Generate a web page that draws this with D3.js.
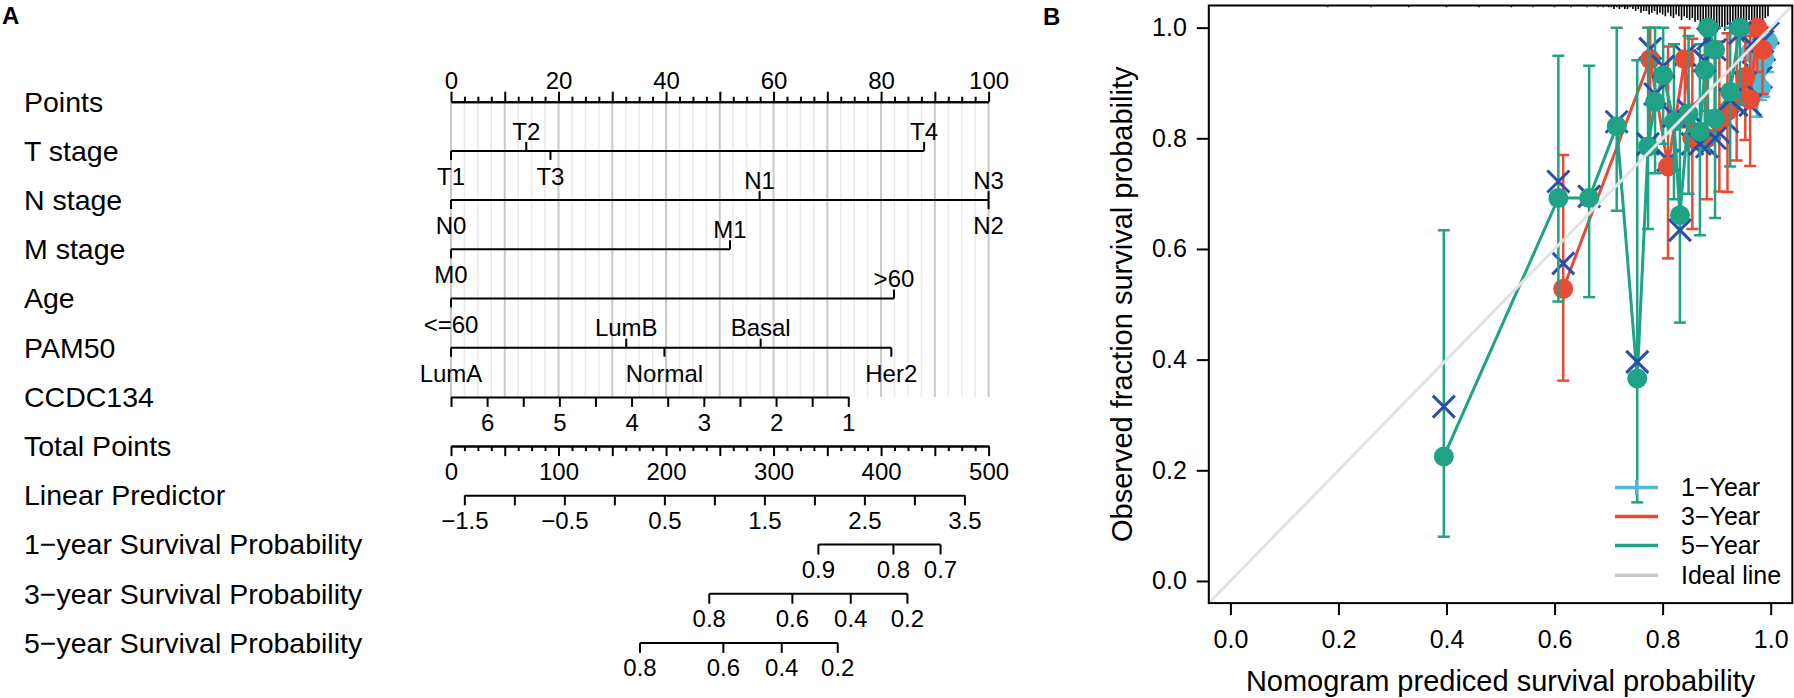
<!DOCTYPE html>
<html>
<head>
<meta charset="utf-8">
<script src="https://cdn.jsdelivr.net/npm/d3@7"></script>
<style>
  body { margin: 0; background: #fff; }
  svg { font-family: "Liberation Sans", Arial, sans-serif; }
</style>
</head>
<body>
<svg id="fig" width="1794" height="698"></svg>
<script>
// ---------- DATA ----------
// panel A : nomogram
const rowLabels = ["Points", "T stage", "N stage", "M stage", "Age", "PAM50", "CCDC134",
  "Total Points", "Linear Predictor", "1\u2212year Survival Probability",
  "3\u2212year Survival Probability", "5\u2212year Survival Probability"];

const tLevels = ["T1", "T2", "T3", "T4"],           tPoints = [0, 14.0, 18.5, 88.0];
const nLevels = ["N0", "N1", "N2", "N3"],           nPoints = [0, 57.4, 100, 100];
const mLevels = ["M0", "M1"],                       mPoints = [0, 51.9];
const ageLevels = ["<=60", ">60"],                  agePoints = [0, 82.4];
const pamLevels = ["LumA", "LumB", "Normal", "Basal", "Her2"], pamPoints = [0, 32.6, 39.7, 57.6, 81.9];

const ccdcDomain = [6.5, 1], ccdcPoints = [0, 73.9];   // CCDC134 value -> points
const lpDomain = [-1.5, 3.5], lpTotal = [12.4, 477.5];  // linear predictor -> total points

const surv1Ticks = [0.9, 0.8, 0.7],      surv1Total = [341.7, 411.5, 455.3];
const surv3Ticks = [0.8, 0.6, 0.4, 0.2], surv3Total = [240.2, 317.5, 371.8, 424.5];
const surv5Ticks = [0.8, 0.6, 0.4, 0.2], surv5Total = [175.8, 253.3, 307.6, 359.7];

// panel B : calibration  [predicted, observed, lower, upper, bias corrected]
const oneYear = [
  [0.962, 0.955, 0.875, 1.000, 0.965],
  [0.968, 0.905, 0.870, 0.990, 0.920],
  [0.975, 0.925, 0.839, 1.000, 0.940],
  [0.982, 0.890, 0.869, 0.960, 0.910],
  [0.988, 0.945, 0.875, 1.000, 0.960],
  [0.995, 0.975, 0.920, 1.000, 0.990]];
const threeYear = [
  [0.616, 0.528, 0.362, 0.770, 0.574],
  [0.777, 0.943, 0.800, 1.000, 0.962],
  [0.810, 0.749, 0.583, 0.966, 0.760],
  [0.841, 0.943, 0.820, 1.000, 0.950],
  [0.855, 0.800, 0.636, 0.980, 0.790],
  [0.882, 0.800, 0.690, 0.950, 0.785],
  [0.905, 0.830, 0.704, 0.975, 0.810],
  [0.920, 0.849, 0.703, 0.990, 0.830],
  [0.937, 0.880, 0.760, 1.000, 0.860],
  [0.953, 0.911, 0.797, 1.000, 0.900],
  [0.962, 0.870, 0.750, 0.985, 0.860],
  [0.975, 1.000, 0.920, 1.000, 0.980],
  [0.985, 0.960, 0.880, 1.000, 0.975]];
const fiveYear = [
  [0.395, 0.225, 0.080, 0.634, 0.315],
  [0.607, 0.692, 0.505, 0.949, 0.722],
  [0.664, 0.692, 0.513, 0.931, 0.695],
  [0.715, 0.822, 0.669, 1.000, 0.830],
  [0.753, 0.366, 0.142, 0.941, 0.396],
  [0.773, 0.785, 0.636, 1.000, 0.790],
  [0.786, 0.866, 0.737, 1.000, 0.880],
  [0.801, 0.914, 0.790, 1.000, 0.930],
  [0.821, 0.830, 0.690, 0.970, 0.840],
  [0.832, 0.661, 0.467, 0.840, 0.634],
  [0.848, 0.845, 0.700, 0.985, 0.850],
  [0.869, 0.812, 0.625, 0.970, 0.790],
  [0.878, 0.923, 0.780, 1.000, 0.940],
  [0.884, 1.000, 0.850, 1.000, 0.980],
  [0.897, 0.960, 0.800, 1.000, 0.960],
  [0.897, 0.836, 0.656, 1.000, 0.800],
  [0.925, 0.884, 0.749, 1.000, 0.870],
  [0.943, 1.000, 0.860, 1.000, 0.990]];

// distribution of predicted values (spikes on top)
const rugX = [0.18, 0.26, 0.33, 0.40, 0.46, 0.52, 0.56, 0.60, 0.63, 0.66, 0.68, 0.69,
  0.700, 0.705, 0.710, 0.715, 0.720, 0.725, 0.730, 0.735, 0.740, 0.745,
  0.750, 0.755, 0.760, 0.765, 0.770, 0.775, 0.780, 0.785, 0.790, 0.795,
  0.800, 0.805, 0.810, 0.815, 0.820, 0.825, 0.830, 0.835, 0.840, 0.845,
  0.850, 0.855, 0.860, 0.865, 0.870, 0.875, 0.880, 0.885, 0.890, 0.895,
  0.900, 0.905, 0.910, 0.915, 0.920, 0.925, 0.930, 0.935, 0.940, 0.945,
  0.950, 0.955, 0.960, 0.965, 0.970, 0.975, 0.980, 0.985, 0.990, 0.995];
const rugN = [1, 1, 1, 1, 1, 1, 1, 1, 1, 1, 1, 1,
  1, 1, 2, 1, 2, 1, 2, 2, 1, 2,
  3, 2, 4, 3, 3, 5, 4, 3, 5, 4,
  5, 6, 4, 6, 7, 5, 6, 8, 6, 7,
  8, 7, 9, 8, 10, 9, 8, 11, 12, 13,
  15, 13, 12, 14, 11, 12, 10, 11, 9, 10,
  9, 10, 8, 11, 9, 10, 8, 9, 7, 6];

const seriesNames = ["1\u2212Year", "3\u2212Year", "5\u2212Year", "Ideal line"];
const xTicks = [0, 0.2, 0.4, 0.6, 0.8, 1.0];
const yTicks = [0, 0.2, 0.4, 0.6, 0.8, 1.0];

// ---------- LAYOUT ----------
const svg = d3.select("#fig");
const nomo = { left: 451, right: 988.6, top: 101.7, step: 49.2, labelX: 24 };
const rowY = i => nomo.top + i * nomo.step;

const pointsScale = d3.scaleLinear().domain([0, 100]).range([nomo.left, nomo.right]);
const totalScale = d3.scaleLinear().domain([0, 500]).range([nomo.left, nomo.right]);

function styleAxis(g) {
  g.attr("font-family", null).attr("font-size", 24);
  g.select(".domain").attr("stroke-width", 2);
  g.selectAll(".tick line").attr("stroke-width", 2);
  g.selectAll(".tick text").attr("fill", "#000");
}

// panel letters
svg.append("text").attr("x", 2).attr("y", 24).attr("font-weight", "bold")
  .attr("font-size", 24).text("A");
svg.append("text").attr("x", 1043).attr("y", 24.5).attr("font-weight", "bold")
  .attr("font-size", 24).text("B");

// grey reference lines
const grid = svg.append("g");
grid.selectAll("line")
  .data(d3.range(0, 100.01, 2.5))
  .join("line")
  .attr("x1", d => pointsScale(d)).attr("x2", d => pointsScale(d))
  .attr("y1", rowY(0)).attr("y2", rowY(6))
  .attr("stroke", d => d % 10 === 0 ? "#c9c9c9" : "#e9e9e9")
  .attr("stroke-width", d => d % 10 === 0 ? 2 : 1.5);

// row labels
svg.append("g").selectAll("text")
  .data(rowLabels)
  .join("text")
  .attr("x", nomo.labelX)
  .attr("y", (d, i) => rowY(i))
  .attr("dy", "0.35em")
  .attr("font-size", 28.5)
  .text(d => d);

// Points axis
svg.append("g").attr("transform", `translate(0,${rowY(0)})`)
  .call(d3.axisTop(pointsScale).tickValues(d3.range(0, 101, 10)).tickSize(10)
    .tickSizeOuter(0).tickPadding(3).tickFormat(d => d % 20 === 0 ? d : ""))
  .call(styleAxis);
svg.append("g").attr("transform", `translate(0,${rowY(0)})`)
  .call(d3.axisTop(pointsScale).tickValues(d3.range(0, 100.01, 2.5).filter(d => d % 10 !== 0))
    .tickSize(5).tickSizeOuter(0).tickFormat(""))
  .call(styleAxis);

// categorical rows
const catVars = [
  { levels: tLevels, points: tPoints },
  { levels: nLevels, points: nPoints },
  { levels: mLevels, points: mPoints },
  { levels: ageLevels, points: agePoints },
  { levels: pamLevels, points: pamPoints }];

catVars.forEach((v, k) => {
  const y = rowY(k + 1);
  const g = svg.append("g").attr("transform", `translate(0,${y})`);
  const ext = d3.extent(v.points);
  g.append("line")
    .attr("x1", pointsScale(ext[0])).attr("x2", pointsScale(ext[1]))
    .attr("stroke", "#000").attr("stroke-width", 2);
  const lv = v.levels.map((name, i) => ({ name, pt: v.points[i], up: i % 2 === 1 }));
  g.selectAll(".tk").data(lv).join("line")
    .attr("x1", d => pointsScale(d.pt)).attr("x2", d => pointsScale(d.pt))
    .attr("y1", 0).attr("y2", d => d.up ? -9 : 9)
    .attr("stroke", "#000").attr("stroke-width", 2);
  g.selectAll("text").data(lv).join("text")
    .attr("x", d => pointsScale(d.pt))
    .attr("y", d => d.up ? -11.4 : 34.1)
    .attr("text-anchor", "middle")
    .attr("font-size", 24)
    .text(d => d.name);
});

// CCDC134
const ccdcScale = d3.scaleLinear().domain(ccdcDomain).range(ccdcPoints.map(pointsScale));
svg.append("g").attr("transform", `translate(0,${rowY(6)})`)
  .call(d3.axisBottom(ccdcScale).tickValues(d3.range(1, 6.51, 0.5)).tickSize(10)
    .tickSizeOuter(0).tickPadding(7).tickFormat(d => Number.isInteger(d) ? d : ""))
  .call(styleAxis);

// Total points
svg.append("g").attr("transform", `translate(0,${rowY(7)})`)
  .call(d3.axisBottom(totalScale).tickValues(d3.range(0, 501, 50)).tickSize(10)
    .tickSizeOuter(0).tickPadding(7).tickFormat(d => d % 100 === 0 ? d : ""))
  .call(styleAxis);
svg.append("g").attr("transform", `translate(0,${rowY(7)})`)
  .call(d3.axisBottom(totalScale).tickValues(d3.range(0, 500.1, 12.5).filter(d => d % 50 !== 0))
    .tickSize(5).tickSizeOuter(0).tickFormat(""))
  .call(styleAxis);

// Linear predictor
const lpScale = d3.scaleLinear().domain(lpDomain).range(lpTotal.map(totalScale));
const f1 = d3.format(".1f");
svg.append("g").attr("transform", `translate(0,${rowY(8)})`)
  .call(d3.axisBottom(lpScale).tickValues(d3.range(-1.5, 3.51, 0.5)).tickSize(10)
    .tickSizeOuter(0).tickPadding(7).tickFormat(d => Number.isInteger(d + 1.5) ? f1(d) : ""))
  .call(styleAxis);

// survival probability rows
[[surv1Ticks, surv1Total], [surv3Ticks, surv3Total], [surv5Ticks, surv5Total]].forEach(([tk, tot], k) => {
  const y = rowY(9 + k);
  const g = svg.append("g").attr("transform", `translate(0,${y})`);
  const ext = d3.extent(tot);
  g.append("line")
    .attr("x1", totalScale(ext[0])).attr("x2", totalScale(ext[1]))
    .attr("stroke", "#000").attr("stroke-width", 2);
  const d = tk.map((p, i) => ({ p, t: tot[i] }));
  g.selectAll(".tk").data(d).join("line")
    .attr("x1", e => totalScale(e.t)).attr("x2", e => totalScale(e.t))
    .attr("y1", 0).attr("y2", 10)
    .attr("stroke", "#000").attr("stroke-width", 2);
  g.selectAll("text").data(d).join("text")
    .attr("x", e => totalScale(e.t)).attr("y", 33.6)
    .attr("text-anchor", "middle").attr("font-size", 24)
    .text(e => f1(e.p));
});

// ---------- PANEL B ----------
const xScale = d3.scaleLinear().domain([-0.04, 1.04]).range([1208.8, 1792.3]);
const yScale = d3.scaleLinear().domain([-0.04, 1.04]).range([603.1, 5.5]);

const colors = { one: "#4dbbd5", three: "#e64b35", five: "#20a286", ideal: "#c8c8c8", x: "#2b4ea6" };

svg.append("defs").append("clipPath").attr("id", "box")
  .append("rect")
  .attr("x", xScale(-0.04)).attr("y", yScale(1.04))
  .attr("width", xScale(1.04) - xScale(-0.04))
  .attr("height", yScale(-0.04) - yScale(1.04));

const plot = svg.append("g").attr("clip-path", "url(#box)");

// spikes of predicted distribution
const rugLen = d3.scaleLinear().domain([0, d3.max(rugN)]).range([0, 27]);
plot.append("g").selectAll("line")
  .data(rugX.map((x, i) => ({ x, n: rugN[i] })))
  .join("line")
  .attr("x1", d => xScale(d.x)).attr("x2", d => xScale(d.x))
  .attr("y1", yScale(1.04)).attr("y2", d => yScale(1.04) + rugLen(d.n))
  .attr("stroke", "#000").attr("stroke-width", 1.6);

const series = [
  { data: oneYear, color: colors.one },
  { data: threeYear, color: colors.three },
  { data: fiveYear, color: colors.five }];

const line = d3.line().x(d => xScale(d[0])).y(d => yScale(d[1]));

series.forEach(s => {
  const g = plot.append("g");
  // error bars
  const eb = g.append("g").attr("stroke", s.color).attr("stroke-width", 2.5);
  eb.selectAll(".v").data(s.data).join("line")
    .attr("x1", d => xScale(d[0])).attr("x2", d => xScale(d[0]))
    .attr("y1", d => yScale(d[2])).attr("y2", d => yScale(d[3]));
  eb.selectAll(".lo").data(s.data).join("line")
    .attr("x1", d => xScale(d[0]) - 6).attr("x2", d => xScale(d[0]) + 6)
    .attr("y1", d => yScale(d[2])).attr("y2", d => yScale(d[2]));
  eb.selectAll(".hi").data(s.data).join("line")
    .attr("x1", d => xScale(d[0]) - 6).attr("x2", d => xScale(d[0]) + 6)
    .attr("y1", d => yScale(d[3])).attr("y2", d => yScale(d[3]));
  // connecting line
  g.append("path").datum(s.data).attr("d", line)
    .attr("fill", "none").attr("stroke", s.color).attr("stroke-width", 3);
  // bias corrected estimates (X marks), partly covered by the points
  const xm = g.append("g").attr("stroke", colors.x).attr("stroke-width", 3);
  xm.selectAll(".a").data(s.data).join("line")
    .attr("x1", d => xScale(d[0]) - 11).attr("y1", d => yScale(d[4]) - 11)
    .attr("x2", d => xScale(d[0]) + 11).attr("y2", d => yScale(d[4]) + 11);
  xm.selectAll(".b").data(s.data).join("line")
    .attr("x1", d => xScale(d[0]) - 11).attr("y1", d => yScale(d[4]) + 11)
    .attr("x2", d => xScale(d[0]) + 11).attr("y2", d => yScale(d[4]) - 11);
  // points
  g.selectAll("circle").data(s.data).join("circle")
    .attr("cx", d => xScale(d[0])).attr("cy", d => yScale(d[1]))
    .attr("r", 10).attr("fill", s.color);
});

// ideal line on top
plot.append("line")
  .attr("x1", xScale(-0.04)).attr("y1", yScale(-0.04))
  .attr("x2", xScale(1.04)).attr("y2", yScale(1.04))
  .attr("stroke", "#e3e3e3").attr("stroke-width", 3);

// frame
svg.append("rect")
  .attr("x", xScale(-0.04)).attr("y", yScale(1.04))
  .attr("width", xScale(1.04) - xScale(-0.04))
  .attr("height", yScale(-0.04) - yScale(1.04))
  .attr("fill", "none").attr("stroke", "#000").attr("stroke-width", 2);

// axes
const xAxisG = svg.append("g").attr("transform", `translate(0,${yScale(-0.04)})`)
  .call(d3.axisBottom(xScale).tickValues(xTicks).tickFormat(f1).tickSize(12).tickPadding(15));
xAxisG.select(".domain").remove();
xAxisG.attr("font-family", null).attr("font-size", 25);
xAxisG.selectAll(".tick line").attr("stroke-width", 2);

const yAxisG = svg.append("g").attr("transform", `translate(${xScale(-0.04)},0)`)
  .call(d3.axisLeft(yScale).tickValues(yTicks).tickFormat(f1).tickSize(12).tickPadding(10));
yAxisG.select(".domain").remove();
yAxisG.attr("font-family", null).attr("font-size", 25);
yAxisG.selectAll(".tick line").attr("stroke-width", 2);

// titles
svg.append("text")
  .attr("x", xScale(0.5)).attr("y", 681).attr("dy", "0.35em")
  .attr("text-anchor", "middle").attr("font-size", 29)
  .text("Nomogram prediced survival probability");
svg.append("text")
  .attr("transform", `translate(1121.5,${yScale(0.5)}) rotate(-90)`)
  .attr("dy", "0.35em").attr("text-anchor", "middle").attr("font-size", 29)
  .text("Observed fraction survival probability");

// legend
const legendColors = [colors.one, colors.three, colors.five, colors.ideal];
const legendY = [487.5, 516.4, 545.4, 575.2];
const lg = svg.append("g");
seriesNames.forEach((name, i) => {
  const y = legendY[i];
  lg.append("line").attr("x1", 1615).attr("x2", 1658).attr("y1", y).attr("y2", y)
    .attr("stroke", legendColors[i]).attr("stroke-width", 3.5);
  if (i === 0) {
    lg.append("line").attr("x1", 1636.5).attr("x2", 1636.5).attr("y1", y - 7.5).attr("y2", y + 7.5)
      .attr("stroke", legendColors[i]).attr("stroke-width", 3);
  }
  lg.append("text").attr("x", 1681).attr("y", y).attr("dy", "0.35em")
    .attr("font-size", 25).text(name);
});
</script>
</body>
</html>
